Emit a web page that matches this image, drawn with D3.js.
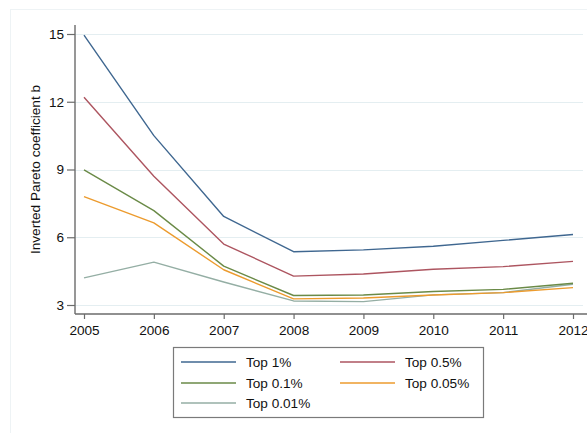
<!DOCTYPE html>
<html>
<head>
<meta charset="utf-8">
<script src="https://cdn.jsdelivr.net/npm/d3@7/dist/d3.min.js"></script>
<style>
  html, body { margin: 0; padding: 0; background: #ffffff; }
  svg { display: block; }
  text { font-family: "Liberation Sans", Arial, Helvetica, sans-serif; fill: #111; }
</style>
</head>
<body>
<svg id="chart" width="587" height="433"></svg>
<script>
// Years on the horizontal axis
const years = [2005, 2006, 2007, 2008, 2009, 2010, 2011, 2012];

// Inverted Pareto coefficient b for each top-income group
const top1    = [14.95, 10.5, 6.92, 5.36, 5.44, 5.6, 5.86, 6.12];
const top05   = [12.2, 8.7, 5.7, 4.28, 4.37, 4.58, 4.7, 4.93];
const top01   = [8.98, 7.18, 4.72, 3.42, 3.44, 3.6, 3.69, 3.96];
const top005  = [7.8, 6.64, 4.56, 3.27, 3.31, 3.44, 3.55, 3.77];
const top001  = [4.2, 4.9, 4.02, 3.18, 3.15, 3.45, 3.55, 3.92];

const seriesNames = ["Top 1%", "Top 0.5%", "Top 0.1%", "Top 0.05%", "Top 0.01%"];
const seriesColors = ["#3f6790", "#ad5560", "#6a8a47", "#ec9b2e", "#94aea4"];
const yTicks = [3, 6, 9, 12, 15];
const yLabel = "Inverted Pareto coefficient b";

const seriesValues = [top1, top05, top01, top005, top001];

const fontSize = 13.6;
const svg = d3.select("#chart");

// faint outer graph-region frame
svg.append("rect")
  .attr("x", 10.5).attr("y", 9.5)
  .attr("width", 600).attr("height", 460)
  .attr("fill", "none")
  .attr("stroke", "#eef3f5")
  .attr("stroke-width", 1);

const x = d3.scaleLinear().domain([2005, 2012]).range([84, 573]);
const y = d3.scaleLinear().domain([3, 15]).range([305, 34]);

const axisX = 75, axisY = 314;

// horizontal grid lines
svg.append("g")
  .selectAll("line")
  .data(yTicks)
  .join("line")
  .attr("x1", axisX).attr("x2", 583)
  .attr("y1", d => Math.round(y(d)) + 0.5)
  .attr("y2", d => Math.round(y(d)) + 0.5)
  .attr("stroke", "#e4eef1")
  .attr("stroke-width", 1.2);

// y axis
const yAxis = d3.axisLeft(y)
  .tickValues(yTicks)
  .tickFormat(d3.format("d"))
  .tickSize(8)
  .tickPadding(3);
const gy = svg.append("g")
  .attr("transform", `translate(${axisX},0)`)
  .call(yAxis);
gy.select(".domain").remove();
gy.append("line")
  .attr("x1", 0).attr("x2", 0)
  .attr("y1", 25).attr("y2", axisY)
  .attr("stroke", "#6b6b6b").attr("stroke-width", 1.4);
gy.selectAll(".tick line").attr("stroke", "#6b6b6b").attr("stroke-width", 1.2);
gy.selectAll(".tick text")
  .attr("font-size", fontSize)
  .attr("fill", "#111");

// x axis
const xAxis = d3.axisBottom(x)
  .tickValues(years)
  .tickFormat(d3.format("d"))
  .tickSize(5)
  .tickPadding(6);
const gx = svg.append("g")
  .attr("transform", `translate(0,${axisY})`)
  .call(xAxis);
gx.select(".domain").remove();
gx.append("line")
  .attr("x1", axisX).attr("x2", 587)
  .attr("y1", 0).attr("y2", 0)
  .attr("stroke", "#6b6b6b").attr("stroke-width", 1.4);
gx.selectAll(".tick line").attr("stroke", "#6b6b6b").attr("stroke-width", 1.2);
gx.selectAll(".tick text")
  .attr("font-size", fontSize)
  .attr("fill", "#111");

// y axis title
svg.append("text")
  .attr("transform", `translate(40,${(34 + 305) / 2}) rotate(-90)`)
  .attr("text-anchor", "middle")
  .attr("font-size", fontSize)
  .text(yLabel);

// series lines
const line = d3.line()
  .x((d, i) => x(years[i]))
  .y(d => y(d));

const order = [4, 3, 2, 1, 0];
svg.append("g")
  .selectAll("path")
  .data(order)
  .join("path")
  .attr("d", k => line(seriesValues[k]))
  .attr("fill", "none")
  .attr("stroke", k => seriesColors[k])
  .attr("stroke-width", 1.4)
  .attr("stroke-linejoin", "round");

// legend
const legend = svg.append("g");
legend.append("rect")
  .attr("x", 173.5).attr("y", 347.5)
  .attr("width", 310).attr("height", 70)
  .attr("fill", "#fff")
  .attr("stroke", "#7a7a7a")
  .attr("stroke-width", 1.2);

const legendItems = seriesNames.map((name, i) => ({
  name,
  color: seriesColors[i],
  col: i % 2,
  row: Math.floor(i / 2)
}));

const colX = [181, 340];
const rowY = [362, 383, 403];
const item = legend.selectAll("g.item")
  .data(legendItems)
  .join("g")
  .attr("class", "item");
item.append("line")
  .attr("x1", d => colX[d.col])
  .attr("x2", d => colX[d.col] + 55)
  .attr("y1", d => rowY[d.row])
  .attr("y2", d => rowY[d.row])
  .attr("stroke", d => d.color)
  .attr("stroke-width", 1.6);
item.append("text")
  .attr("x", d => colX[d.col] + 65)
  .attr("y", d => rowY[d.row])
  .attr("dy", "0.35em")
  .attr("font-size", fontSize)
  .text(d => d.name);
</script>
</body>
</html>
